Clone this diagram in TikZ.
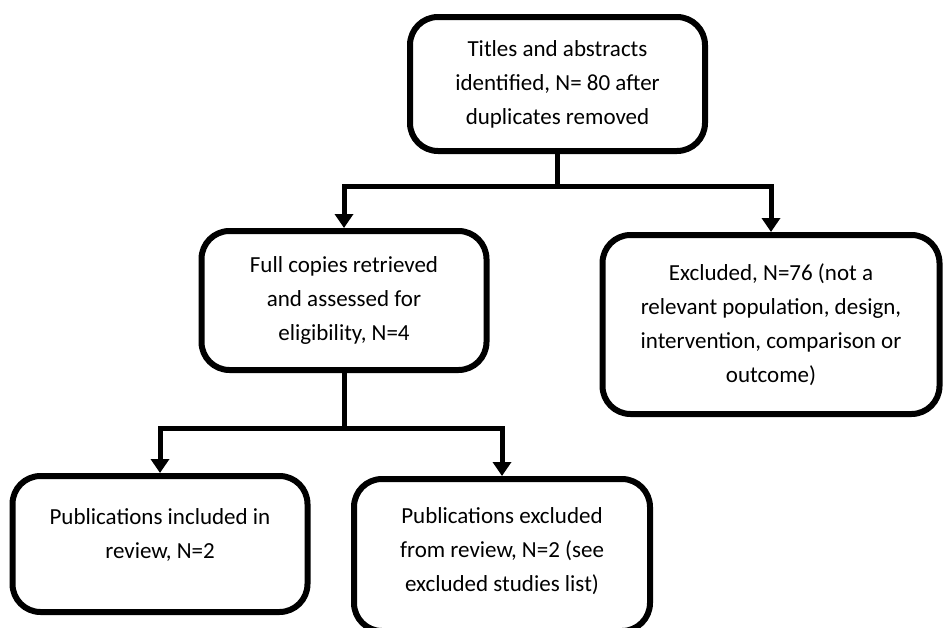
\documentclass[tikz,border=0pt]{standalone}
\usepackage{fontspec}
\setmainfont{Carlito}
\usetikzlibrary{arrows.meta}

\begin{document}
\begin{tikzpicture}[x=1pt,y=-1pt,line width=5pt,>={Triangle[width=18pt,length=14pt]},
  stage/.style={draw,line width=6pt,rounded corners=28pt,align=center,inner sep=0pt,
    font=\fontsize{23}{34}\selectfont}]
  \useasboundingbox (0,0) rectangle (943,627);
  % cajas del flujo
  \node[stage,minimum width=295pt,minimum height=134pt] (ident) at (557.5,84)
    {Titles and abstracts\\identified, N= 80 after\\duplicates removed};
  \node[stage,minimum width=285pt,minimum height=139pt] (full) at (344,300.5)
    {Full copies retrieved\\and assessed for\\eligibility, N=4};
  \node[stage,minimum width=337pt,minimum height=179pt] (excl) at (771,324.5)
    {Excluded, N=76 (not a\\relevant population, design,\\intervention, comparison or\\outcome)};
  \node[stage,minimum width=295pt,minimum height=136pt] (incl) at (160,544)
    {Publications included in\\review, N=2\\[-14pt]};
  \node[stage,minimum width=296pt,minimum height=152pt] (drop) at (502,555)
    {Publications excluded\\from review, N=2 (see\\excluded studies list)\\[-24pt]};
  % conectores
  \coordinate (j1) at (557.5,186);
  \coordinate (j2) at (344,428);
  \draw (ident.south) -- (j1);
  \draw[->] (j1) -| (full.north);
  \draw[->] (j1) -| (excl.north);
  \draw (full.south) -- (j2);
  \draw[->] (j2) -| (incl.north);
  \draw[->] (j2) -| (drop.north);
\end{tikzpicture}
\end{document}
